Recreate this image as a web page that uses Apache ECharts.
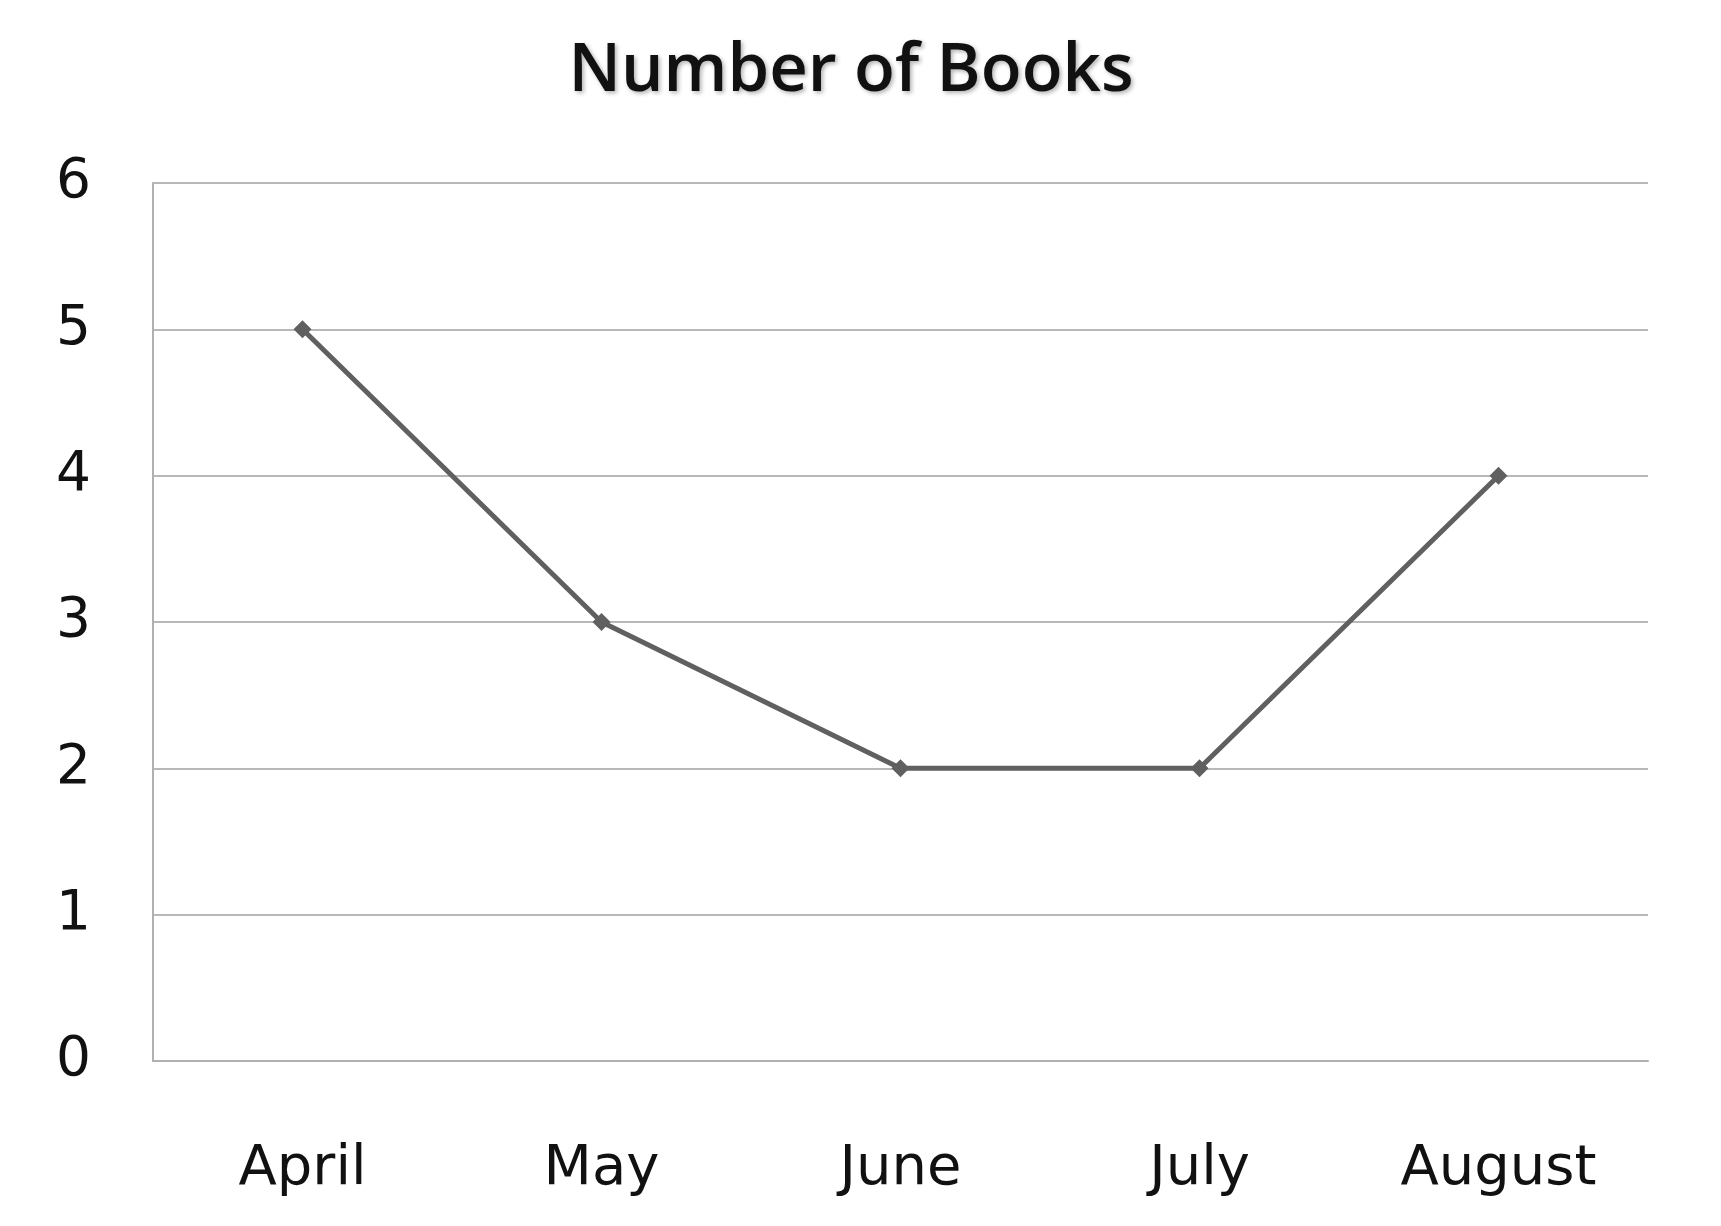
<!DOCTYPE html>
<html>
<head>
<meta charset="utf-8">
<script src="https://cdn.jsdelivr.net/npm/echarts@6/dist/echarts.min.js"></script>
<style>html,body{margin:0;padding:0;background:#fff}#c{width:1721px;height:1226px}</style>
</head>
<body>
<div id="c"></div>
<script>
const titleText = 'Number of Books';
const months = ['April', 'May', 'June', 'July', 'August'];
const books = [5, 3, 2, 2, 4];
const yMin = 0, yMax = 6, yStep = 1;

const chart = echarts.init(document.getElementById('c'), null, {renderer: 'canvas'});
chart.setOption({
  backgroundColor: '#ffffff',
  animation: false,
  title: {
    text: titleText,
    left: 846, top: 33,
    textAlign: 'center',
    textStyle: {
      fontFamily: '"Open Sans", sans-serif',
      fontWeight: 600, fontSize: 67, color: '#111',
      textShadowColor: 'rgba(0,0,0,0.3)', textShadowBlur: 4, textShadowOffsetX: 2, textShadowOffsetY: 2
    }
  },
  grid: {left: 153, right: 73, top: 183, bottom: 165, containLabel: false},
  xAxis: {
    type: 'category',
    data: months,
    boundaryGap: true,
    axisLine: {show: true, lineStyle: {color: '#b0b0b0', width: 2}},
    axisTick: {show: false},
    splitLine: {show: false},
    axisLabel: {
      margin: 80,
      fontFamily: '"DejaVu Sans", sans-serif',
      fontSize: 56, color: '#111'
    }
  },
  yAxis: {
    type: 'value',
    min: yMin, max: yMax, interval: yStep,
    axisLine: {show: true, lineStyle: {color: '#b0b0b0', width: 2}},
    axisTick: {show: false},
    splitLine: {show: true, lineStyle: {color: '#b8b8b8', width: 2}},
    axisLabel: {
      margin: 62,
      fontFamily: '"DejaVu Sans", sans-serif',
      fontSize: 55, color: '#111',
      padding: [0, 0, 22, 0]
    }
  },
  series: [{
    type: 'line',
    data: books,
    symbol: 'diamond',
    symbolSize: 18,
    showSymbol: true,
    lineStyle: {color: '#606060', width: 5},
    itemStyle: {color: '#606060'}
  }]
});
</script>
</body>
</html>
